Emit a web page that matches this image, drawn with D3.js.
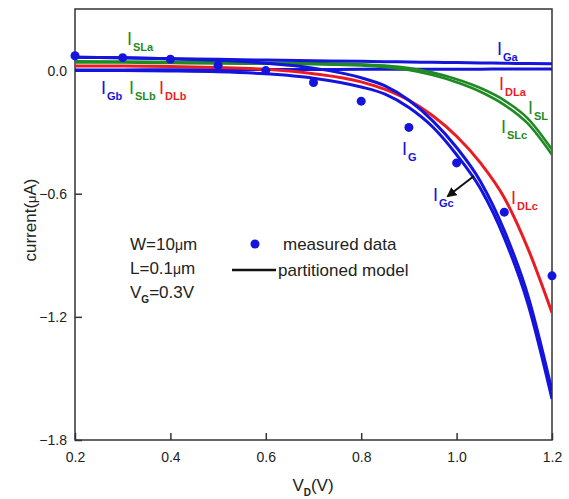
<!DOCTYPE html>
<html><head><meta charset="utf-8">
<script src="https://cdn.jsdelivr.net/npm/d3@7"></script>
<style>body{margin:0;background:#fff}svg{font-family:Arial,"Liberation Sans",sans-serif}</style>
</head><body><svg id="c" width="569" height="499"></svg>
<script>
// ---- data ----
const xTicks = [0.2, 0.4, 0.6, 0.8, 1.0, 1.2];
const yTicks = [0.0, -0.6, -1.2, -1.8];
const measuredV = [0.2, 0.3, 0.4, 0.5, 0.6, 0.7, 0.8, 0.9, 1.0, 1.1, 1.2];
const measuredI = [0.072, 0.063, 0.055, 0.025, 0.0, -0.058, -0.149, -0.277, -0.45, -0.69, -1.0];
const modelV   = [0.2, 0.3, 0.4, 0.5, 0.6, 0.7, 0.8, 0.85, 0.9, 0.95, 1.0, 1.05, 1.1, 1.15, 1.2];
const I_Ga  = [0.065, 0.062, 0.058, 0.055, 0.051, 0.048, 0.045, 0.043, 0.042, 0.040, 0.039, 0.037, 0.036, 0.034, 0.033];
const I_Gb  = [0.003, 0.003, 0.004, 0.004, 0.005, 0.005, 0.006, 0.006, 0.006, 0.007, 0.007, 0.007, 0.008, 0.008, 0.008];
const I_G   = [0.065, 0.062, 0.058, 0.050, 0.036, 0.012, -0.035, -0.075, -0.145, -0.245, -0.375, -0.54, -0.78, -1.10, -1.56];
const I_Gc  = [0.0, 0.0, -0.002, -0.006, -0.016, -0.037, -0.08, -0.115, -0.18, -0.275, -0.41, -0.575, -0.815, -1.14, -1.60];
const I_DLc = [0.022, 0.022, 0.020, 0.015, 0.006, -0.015, -0.055, -0.092, -0.145, -0.22, -0.32, -0.45, -0.62, -0.87, -1.18];
const I_SL  = [0.045, 0.044, 0.042, 0.040, 0.038, 0.036, 0.031, 0.024, 0.012, -0.01, -0.042, -0.085, -0.145, -0.235, -0.385];
const I_SLc = [0.040, 0.039, 0.037, 0.035, 0.033, 0.031, 0.025, 0.017, 0.003, -0.022, -0.057, -0.103, -0.167, -0.26, -0.41];
const legendText = ["measured data", "partitioned model"];
const paramText = ["W=10", "L=0.1", "V"];

const BLUE = "#1414dc", GREEN = "#1f8a24", RED = "#ea1c22";

const svg = d3.select("#c");
const L = 75, R = 552, T = 9, B = 440;
const x = d3.scaleLinear().domain([0.2, 1.2]).range([L, R]);
const y = d3.scaleLinear().domain([-1.8, 0.3]).range([B, T]);

svg.append("defs").append("clipPath").attr("id", "clip")
  .append("rect").attr("x", L).attr("y", T).attr("width", R - L).attr("height", B - T);

// axes
const xAxis = d3.axisBottom(x).tickValues(xTicks).tickFormat(d3.format(".1f")).tickSizeInner(-7).tickSizeOuter(0).tickPadding(12);
const gx = svg.append("g").attr("transform", `translate(0,${B})`).call(xAxis);
const yAxis = d3.axisLeft(y).tickValues(yTicks).tickFormat(d3.format(".1f")).tickSizeInner(-7).tickSizeOuter(0).tickPadding(8);
const gy = svg.append("g").attr("transform", `translate(${L},0)`).call(yAxis);
[gx, gy].forEach(g => {
  g.select(".domain").remove();
  g.selectAll("line").attr("stroke", "#333").attr("stroke-width", 1.5);
  g.selectAll("text").attr("font-size", 14).attr("fill", "#222").attr("font-family", "Arial, 'Liberation Sans', sans-serif");
});
svg.append("rect").attr("x", L).attr("y", T).attr("width", R - L).attr("height", B - T)
  .attr("fill", "none").attr("stroke", "#333").attr("stroke-width", 1.5);

// axis titles
const xt = svg.append("text").attr("x", 313).attr("y", 491).attr("text-anchor", "middle").attr("font-size", 17).attr("fill", "#222");
xt.append("tspan").text("V");
xt.append("tspan").text("D").attr("font-size", 10).attr("font-weight", "bold").attr("dy", 5);
xt.append("tspan").text("(V)").attr("dy", -5);
const yt = svg.append("text").attr("transform", "translate(36,220) rotate(-90)").attr("text-anchor", "middle").attr("font-size", 17).attr("fill", "#222");
yt.append("tspan").text("current(");
yt.append("tspan").text("μ").attr("font-size", 13);
yt.append("tspan").text("A)");

// curves
const plot = svg.append("g").attr("clip-path", "url(#clip)");
const line = d3.line().x((d, i) => x(modelV[i])).y(d => y(d)).curve(d3.curveMonotoneX);
const series = [
  {v: I_Gb, c: BLUE, w: 3}, {v: I_DLc, c: RED, w: 3}, {v: I_SLc, c: GREEN, w: 2.6}, {v: I_SL, c: GREEN, w: 2.6},
  {v: I_Gc, c: BLUE, w: 3}, {v: I_G, c: BLUE, w: 3}, {v: I_Ga, c: BLUE, w: 3}
];
series.forEach(s => {
  plot.append("path").attr("d", line(s.v)).attr("fill", "none").attr("stroke", s.c).attr("stroke-width", s.w);
});

// measured dots
svg.append("g").selectAll("circle").data(measuredV).join("circle")
  .attr("cx", d => x(d)).attr("cy", (d, i) => y(measuredI[i])).attr("r", 4.5).attr("fill", BLUE);

// curve labels
const labels = [
  {s: "SLa", c: GREEN, px: 127, py: 45},
  {s: "Ga", c: BLUE, px: 497, py: 55},
  {s: "Gb", c: BLUE, px: 101, py: 94},
  {s: "SLb", c: GREEN, px: 129, py: 94},
  {s: "DLb", c: RED, px: 159, py: 94},
  {s: "DLa", c: RED, px: 499, py: 90},
  {s: "SL", c: GREEN, px: 528, py: 114},
  {s: "SLc", c: GREEN, px: 501, py: 133},
  {s: "G", c: BLUE, px: 402, py: 155},
  {s: "Gc", c: BLUE, px: 433, py: 201},
  {s: "DLc", c: RED, px: 511, py: 204}
];
labels.forEach(l => {
  const t = svg.append("text").attr("x", l.px).attr("y", l.py).attr("fill", l.c).attr("font-size", 18);
  t.append("tspan").text("I");
  t.append("tspan").text(l.s).attr("font-size", 11).attr("font-weight", "bold").attr("dy", 6).attr("dx", 1);
});

// arrow
svg.append("defs").append("marker").attr("id", "ah").attr("viewBox", "0 0 10 10").attr("refX", 8).attr("refY", 5)
  .attr("markerWidth", 5).attr("markerHeight", 5).attr("orient", "auto")
  .append("path").attr("d", "M0,0L10,5L0,10z").attr("fill", "#111");
svg.append("line").attr("x1", 474).attr("y1", 176).attr("x2", 448).attr("y2", 196)
  .attr("stroke", "#111").attr("stroke-width", 2).attr("marker-end", "url(#ah)");

// legend
svg.append("circle").attr("cx", 255).attr("cy", 244).attr("r", 4.5).attr("fill", BLUE);
svg.append("text").attr("x", 283).attr("y", 250).attr("font-size", 17).attr("fill", "#222").text(legendText[0]);
svg.append("line").attr("x1", 232).attr("x2", 276).attr("y1", 270).attr("y2", 270).attr("stroke", "#111").attr("stroke-width", 2.5);
svg.append("text").attr("x", 278).attr("y", 276).attr("font-size", 17).attr("fill", "#222").text(legendText[1]);

// parameters
const p1 = svg.append("text").attr("x", 130).attr("y", 250).attr("font-size", 17).attr("fill", "#222");
p1.append("tspan").text(paramText[0]); p1.append("tspan").text("μ").attr("font-size", 14); p1.append("tspan").text("m");
const p2 = svg.append("text").attr("x", 130).attr("y", 274).attr("font-size", 17).attr("fill", "#222");
p2.append("tspan").text(paramText[1]); p2.append("tspan").text("μ").attr("font-size", 14); p2.append("tspan").text("m");
const p3 = svg.append("text").attr("x", 130).attr("y", 298).attr("font-size", 17).attr("fill", "#222");
p3.append("tspan").text(paramText[2]);
p3.append("tspan").text("G").attr("font-size", 10).attr("font-weight", "bold").attr("dy", 5);
p3.append("tspan").text("=0.3V").attr("dy", -5);
</script></body></html>
